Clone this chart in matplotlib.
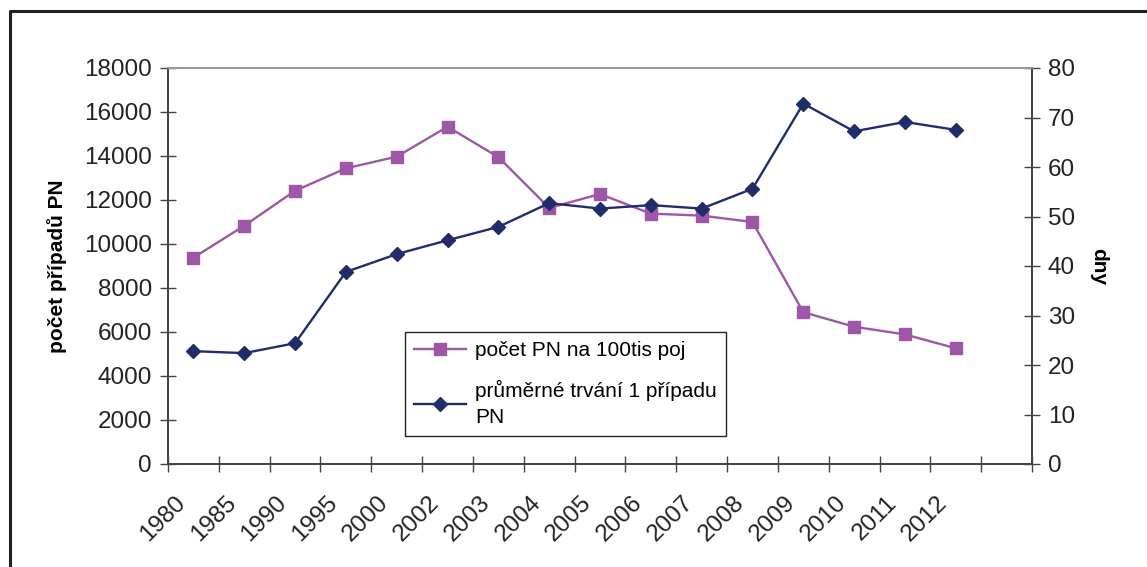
import matplotlib
matplotlib.use("Agg")
import matplotlib.pyplot as plt
from matplotlib.lines import Line2D

plt.rcParams['font.family'] = ['Liberation Sans', 'DejaVu Sans']

years = ["1980", "1985", "1990", "1995", "2000", "2002", "2003", "2004", "2005",
         "2006", "2007", "2008", "2009", "2010", "2011", "2012"]
pocet_pn = [9380, 10830, 12420, 13440, 13970, 15330, 13950, 11640, 12270,
            11380, 11290, 11000, 6900, 6240, 5890, 5260]
trvani = [22.8, 22.4, 24.4, 38.8, 42.4, 45.2, 47.9, 52.7, 51.6,
          52.3, 51.6, 55.6, 72.8, 67.2, 69.1, 67.5]
left_ticks = list(range(0, 18001, 2000))
right_ticks = list(range(0, 81, 10))

pink = '#9E57A6'
navy = '#1F2D6B'
W, H = 1147, 567
fig = plt.figure(figsize=(W / 100, H / 100), dpi=100)
ax = fig.add_axes([168 / W, 1 - 464 / H, (1032 - 168) / W, (464 - 68) / H])
ax2 = ax.twinx()

x = list(range(len(years)))
l1, = ax.plot(x, pocet_pn, color=pink, lw=1.7, marker='s', ms=8.5,
              markeredgecolor=pink, label='počet PN na 100tis poj', zorder=3)
l2, = ax2.plot(x, trvani, color=navy, lw=1.7, marker='D', ms=7.5,
               markeredgecolor=navy, label='průměrné trvání 1 případu\nPN', zorder=3)

ncat = len(years) + 1
ax.set_xlim(-0.5, ncat - 0.5)
ax.set_ylim(0, 18000)
ax2.set_ylim(0, 80)
ax.set_yticks(left_ticks)
ax2.set_yticks(right_ticks)
ax.set_yticklabels([str(v) for v in left_ticks], fontsize=17.5, color='#222222')
ax2.set_yticklabels([str(v) for v in right_ticks], fontsize=17.5, color='#222222')

ax.set_xticks([i - 0.5 for i in range(ncat + 1)])
ax.set_xticklabels([])
for i, y in enumerate(years):
    ax.annotate(y, xy=(i, 0), xycoords=('data', 'axes fraction'),
                xytext=(-14, -20), textcoords='offset points',
                rotation=45, ha='right', va='top', rotation_mode='anchor',
                fontsize=17.5, color='#222222')

for a in (ax, ax2):
    a.tick_params(axis='both', direction='inout', length=11, width=1.0,
                  color='#444444', pad=6)
    for s in ('left', 'right', 'bottom'):
        a.spines[s].set_color('#444444')
        a.spines[s].set_linewidth(1.3)
    a.spines['top'].set_color('#999999')
    a.spines['top'].set_linewidth(1.3)
ax.tick_params(axis='x', length=12)

ax.set_ylabel('počet případů PN', fontsize=15, fontweight='bold', labelpad=12)
ax2.set_ylabel('dny', fontsize=15, fontweight='bold', rotation=270, labelpad=24)

leg = ax.legend(handles=[l1, l2], loc='upper left',
                bbox_to_anchor=((405 - 168) / (1032 - 168), (464 - 332) / (464 - 68)),
                borderaxespad=0.0,
                fontsize=15, frameon=True, fancybox=False, edgecolor='#222222',
                framealpha=1, borderpad=0.45, handlelength=2.5, labelspacing=0.95,
                handletextpad=0.4)
for t in leg.get_texts():
    t.set_linespacing(1.45)
leg.get_frame().set_linewidth(1.0)
leg.set_zorder(5)

fig.add_artist(Line2D([10 / W, 10 / W, 1.0], [0, 1 - 11 / H, 1 - 11 / H],
                      transform=fig.transFigure, color='#222222', lw=2.2))

fig.savefig('out.png', dpi=100)
